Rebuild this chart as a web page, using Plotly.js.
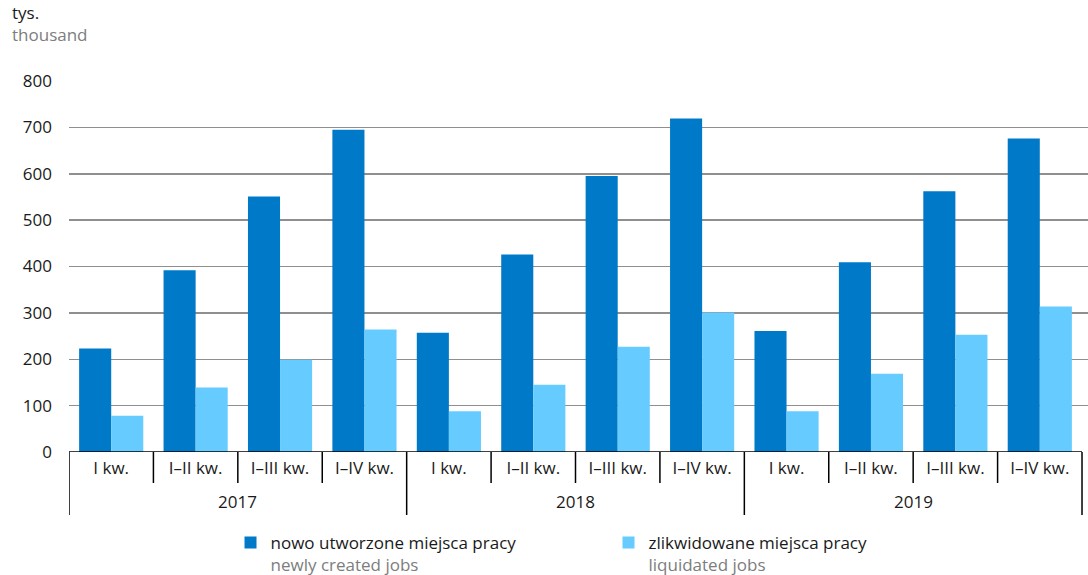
<!DOCTYPE html>
<html>
<head>
<meta charset="utf-8">
<script src="https://cdn.plot.ly/plotly-3.0.1.min.js"></script>
<style>
  html, body { margin: 0; padding: 0; background: #fff; }
  #chart { width: 1088px; height: 575px; }
</style>
</head>
<body>
<div id="chart"></div>
<script>
// Jobs created and liquidated, cumulative by quarter (thousands)
const years = ['2017', '2018', '2019'];
const quarters = ['I kw.', 'I–II kw.', 'I–III kw.', 'I–IV kw.'];
const createdJobs = [223, 392, 551, 695, 257, 426, 595, 719, 261, 409, 562, 676];
const liquidatedJobs = [78, 139, 199, 264, 88, 145, 227, 301, 88, 169, 253, 314];

const seriesNames = [
  'nowo utworzone miejsca pracy',
  'zlikwidowane miejsca pracy'
];
const seriesNamesEn = ['newly created jobs', 'liquidated jobs'];
const unitLabel = 'tys.';
const unitLabelEn = 'thousand';

// one slot per (year, quarter) pair, in order
const slots = [];
const quarterLabels = [];
years.forEach((y, yi) => quarters.forEach((q, qi) => {
  slots.push(yi * quarters.length + qi);
  quarterLabels.push(q);
}));

const FONT = 'Open Sans, Noto Sans, sans-serif';
const TEXT = '#1a1a1a';
const GREY_TEXT = '#7d7d7d';
const AXIS_BLACK = '#000000';

const twoLine = (pl, en) => pl + '<br><span style="color:' + GREY_TEXT + '">' + en + '</span>';

const traces = [
  {
    type: 'bar',
    x: slots,
    y: createdJobs,
    name: twoLine(seriesNames[0], seriesNamesEn[0]),
    marker: { color: '#0079C8' },
    hoverinfo: 'y'
  },
  {
    type: 'bar',
    x: slots,
    y: liquidatedJobs,
    name: twoLine(seriesNames[1], seriesNamesEn[1]),
    marker: { color: '#66CCFF' },
    hoverinfo: 'y'
  }
];

const PLOT_H = 371;               // plot height in px (575 - 81 - 123)
const pxDown = px => -px / PLOT_H;
const nQ = quarters.length;
const firstEdge = -0.5;
const lastEdge = slots.length - 0.5;

const shapes = [];
// base line under the bars, spanning the categories only
shapes.push({
  type: 'line',
  xref: 'x', yref: 'y',
  x0: firstEdge, x1: lastEdge, y0: 0, y1: 0,
  line: { color: AXIS_BLACK, width: 1.5 }
});
// category separators below the axis: short between quarters, long between years
for (let b = 0; b <= slots.length; b++) {
  const isYearEdge = b % nQ === 0;
  shapes.push({
    type: 'line',
    xref: 'x', yref: 'paper',
    x0: b - 0.5, x1: b - 0.5,
    y0: 0, y1: pxDown(isYearEdge ? 63 : 31),
    line: { color: AXIS_BLACK, width: 1.5 }
  });
}

// year labels centred under each group of quarters
const annotations = years.map((y, yi) => ({
  text: y,
  xref: 'x', yref: 'paper',
  x: yi * nQ + (nQ - 1) / 2,
  y: pxDown(50), yanchor: 'middle',
  showarrow: false,
  font: { family: FONT, size: 17, color: TEXT }
}));

// unit caption above the value axis
annotations.push({
  text: twoLine(unitLabel, unitLabelEn),
  xref: 'paper', yref: 'paper',
  x: -0.0577, xanchor: 'left',
  y: 1.22, yanchor: 'top',
  align: 'left',
  showarrow: false,
  font: { family: FONT, size: 17, color: TEXT }
});

const layout = {
  width: 1088,
  height: 575,
  margin: { l: 69, r: 0, t: 81, b: 123, autoexpand: false },
  paper_bgcolor: '#ffffff',
  plot_bgcolor: '#ffffff',
  font: { family: FONT, size: 17, color: TEXT },
  barmode: 'group',
  bargap: 0.24,
  bargroupgap: 0,
  shapes: shapes,
  annotations: annotations,
  xaxis: {
    type: 'linear',
    automargin: false,
    // grid lines run a few pixels past the last category
    range: [firstEdge, lastEdge + 0.071],
    tickmode: 'array',
    tickvals: slots,
    ticktext: quarterLabels,
    showline: false,
    ticks: '',
    ticklabelstandoff: 4,
    showgrid: false,
    zeroline: false,
    tickfont: { family: FONT, size: 17, color: TEXT },
    fixedrange: true
  },
  yaxis: {
    automargin: false,
    range: [0, 800],
    dtick: 100,
    tick0: 0,
    showgrid: true,
    gridcolor: '#8f8f8f',
    gridwidth: 1.5,
    zeroline: false,
    showline: false,
    ticks: '',
    ticklabelstandoff: 16,
    tickfont: { family: FONT, size: 17, color: TEXT },
    fixedrange: true
  },
  showlegend: true,
  legend: {
    orientation: 'h',
    x: 0.1585, xanchor: 'left',
    y: -0.1968, yanchor: 'top',
    valign: 'top',
    entrywidth: 333,
    entrywidthmode: 'pixels',
    font: { family: FONT, size: 17, color: TEXT },
    bgcolor: 'rgba(0,0,0,0)',
    borderwidth: 0
  }
};

Plotly.newPlot('chart', traces, layout, { displayModeBar: false, staticPlot: true });
</script>
</body>
</html>
